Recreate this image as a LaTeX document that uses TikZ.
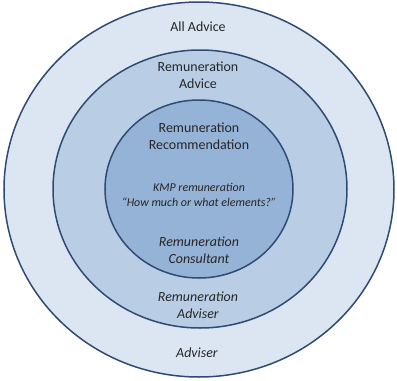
\documentclass[tikz,border=0pt]{standalone}
\usepackage{fontspec}
\setmainfont{Carlito}
\definecolor{ringA}{HTML}{DCE6F2}
\definecolor{ringB}{HTML}{B9CDE5}
\definecolor{ringC}{HTML}{95B3D7}
\definecolor{edge}{HTML}{2F4B73}
\definecolor{txt}{HTML}{262626}
\begin{document}
\begin{tikzpicture}[x=1bp,y=-1bp,
  ring/.style={draw=edge,line width=1.5bp},
  lbl/.style={align=center,text=txt,inner sep=0pt,font=\fontsize{14}{17}\selectfont},
  small/.style={align=center,text=txt,inner sep=0pt,font=\fontsize{12}{15}\selectfont\itshape}]
\useasboundingbox (0,0) rectangle (397,381);
\fill[white] (0,0) rectangle (397,381);
\draw[ring,fill=ringA] (199,189.5) ellipse [x radius=195, y radius=187.5];
\draw[ring,fill=ringB] (200,189) ellipse [x radius=147, y radius=139];
\draw[ring,fill=ringC] (199,189) ellipse [x radius=94, y radius=89];
\node[lbl] (all) at (198,27) {All Advice};
\node[lbl] (radv) at (198,75) {Remuneration\\Advice};
\node[lbl] (rrec) at (199,136) {Remuneration\\Recommendation};
\node[small] (kmp) at (199,194.5) {KMP remuneration\\``How much or what elements?''};
\node[lbl,font=\fontsize{14}{17}\selectfont\itshape] (rcon) at (199,250.5) {Remuneration\\Consultant};
\node[lbl,font=\fontsize{14}{17}\selectfont\itshape] (radvr) at (198,305.5) {Remuneration\\Adviser};
\node[lbl,font=\fontsize{14}{17}\selectfont\itshape] (adv) at (197,353) {Adviser};
\end{tikzpicture}
\end{document}
